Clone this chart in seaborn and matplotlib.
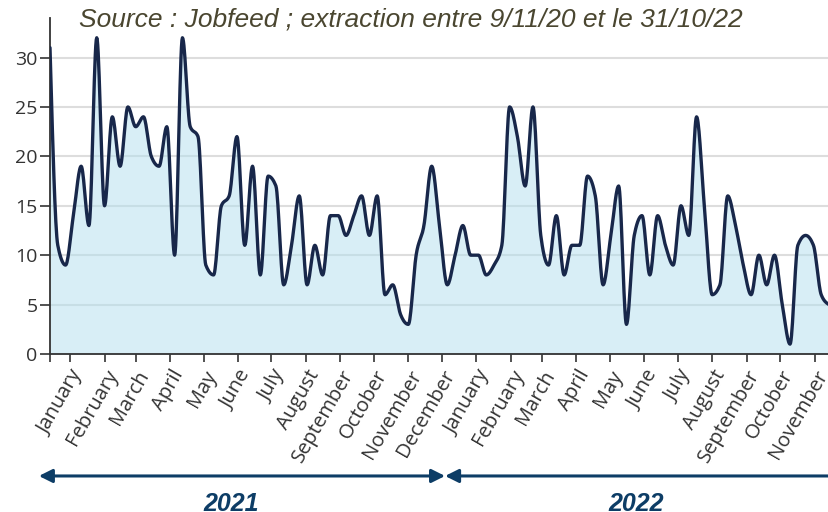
import numpy as np
import pandas as pd
import matplotlib
matplotlib.use('Agg')
import matplotlib.pyplot as plt
import matplotlib.dates as mdates
import matplotlib.transforms as mtransforms
import seaborn as sns

# ─── Data (weekly job offers) ────────────────────────────────────────────────
START_DATE = '2020-12-14'
offers = [31, 11, 9, 14, 19, 13, 32, 15, 24, 19,
          25, 23, 24, 20, 19, 23, 10, 32, 23, 22,
          9, 8, 15, 16, 22, 11, 19, 8, 18, 17,
          7, 11, 16, 7, 11, 8, 14, 14, 12, 14,
          16, 12, 16, 6, 7, 4, 3, 10, 13, 19,
          13, 7, 10, 13, 10, 10, 8, 9, 11, 25,
          22, 17, 25, 12, 9, 14, 8, 11, 11, 18,
          16, 7, 12, 17, 3, 12, 14, 8, 14, 11,
          9, 15, 12, 24, 15, 6, 7, 16, 13, 9,
          6, 10, 7, 10, 5, 1, 11, 12, 11, 6,
          5]
month_labels = ['January', 'February', 'March', 'April', 'May', 'June',
                'July', 'August', 'September', 'October', 'November', 'December',
                'January', 'February', 'March', 'April', 'May', 'June',
                'July', 'August', 'September', 'October', 'November']
first_month = '2021-01-01'
years = ['2021', '2022']
year_spans = [('2020-12-04', '2021-12-04'), ('2021-12-04', '2022-12-10')]
year_label_pos = ['2021-05-26', '2022-05-25']

# ─── Colours ─────────────────────────────────────────────────────────────────
LINE = '#18274a'
FILL = '#b3dfee'
ARROW = '#0d3d66'
TEXT = '#333333'


def monotone_curve(y, n_sub=16):
    """Monotone cubic (d3 curveMonotoneX style) on unit-spaced points."""
    y = np.asarray(y, dtype=float)
    n = len(y)
    d = np.diff(y)
    m = np.zeros(n)
    for i in range(1, n - 1):
        s0, s1 = d[i - 1], d[i]
        p = (s0 + s1) / 2
        m[i] = (np.sign(s0) + np.sign(s1)) * min(abs(s0), abs(s1), 0.5 * abs(p))
    m[0] = (3 * d[0] - m[1]) / 2
    m[-1] = (3 * d[-1] - m[-2]) / 2
    u = np.linspace(0, 1, n_sub, endpoint=False)
    h00 = 2 * u**3 - 3 * u**2 + 1
    h10 = u**3 - 2 * u**2 + u
    h01 = -2 * u**3 + 3 * u**2
    h11 = u**3 - u**2
    ts, vs = [], []
    for i in range(n - 1):
        ts.append(i + u)
        vs.append(h00 * y[i] + h10 * m[i] + h01 * y[i + 1] + h11 * m[i + 1])
    ts.append([n - 1])
    vs.append([y[-1]])
    return np.concatenate(ts), np.concatenate(vs)


dates = pd.date_range(START_DATE, periods=len(offers), freq='7D')
x0 = mdates.date2num(dates[0])
t_dense, v_dense = monotone_curve(offers)
x_dense = x0 + 7 * t_dense

sns.set_style('white')
plt.rcParams['font.family'] = ['Open Sans', 'DejaVu Sans']

fig = plt.figure(figsize=(8.29, 5.12), dpi=100)
ax = fig.add_axes([50 / 829, 158 / 512, 779 / 829, 336 / 512])

ax.fill_between(x_dense, 0, v_dense, color=FILL, alpha=0.5, lw=0, zorder=2)
sns.lineplot(x=x_dense, y=v_dense, ax=ax, color=LINE, lw=2.4, sort=False,
             estimator=None, zorder=3)

ax.set_xlim(mdates.date2num(dates[0]), mdates.date2num(dates[-1]))
ax.set_ylim(0, 34)
ax.set_yticks(range(0, 31, 5))
ax.yaxis.grid(True, color='#dddddd', lw=1.5, zorder=1)
ax.set_axisbelow(True)

month_ticks = mdates.date2num(pd.date_range(first_month, periods=len(month_labels), freq='MS'))
ax.set_xticks([x0] + list(month_ticks))
ax.set_xticklabels([''] + month_labels, rotation=60, ha='right', rotation_mode='anchor')
ax.set_xlabel('')
ax.set_ylabel('')

for side in ['top', 'right']:
    ax.spines[side].set_visible(False)
for side in ['left', 'bottom']:
    ax.spines[side].set_color(TEXT)
    ax.spines[side].set_linewidth(1.3)
ax.tick_params(axis='x', length=6, width=1.2, color=TEXT, labelcolor=TEXT,
               labelsize=14.5, pad=3, direction='out', bottom=True)
ax.tick_params(axis='y', length=7, width=1.2, color=TEXT, labelcolor=TEXT,
               labelsize=14, pad=2, direction='out', left=True)

# year arrows under the month labels
trans = mtransforms.blended_transform_factory(ax.transData, ax.transAxes)
for (a, b) in year_spans:
    ax.annotate('', xy=(mdates.date2num(pd.Timestamp(a)), -0.363), xycoords=trans,
                xytext=(mdates.date2num(pd.Timestamp(b)), -0.363), textcoords=trans,
                arrowprops=dict(arrowstyle='<|-|>', color=ARROW, lw=2.2,
                                mutation_scale=20, shrinkA=0, shrinkB=0),
                annotation_clip=False)
for label, pos in zip(years, year_label_pos):
    ax.text(mdates.date2num(pd.Timestamp(pos)), -0.466, label, transform=trans,
            ha='center', va='baseline', fontsize=18, fontweight='bold',
            fontstyle='italic', color=ARROW, family=['Liberation Sans', 'DejaVu Sans'])

fig.text(0.495, 0.962, 'Source : Jobfeed ; extraction entre 9/11/20 et le 31/10/22',
         ha='center', va='center', fontsize=19, fontstyle='italic', color='#4a4630',
         family=['Liberation Sans', 'DejaVu Sans'])

plt.savefig('out.png', dpi=100)
plt.close(fig)
